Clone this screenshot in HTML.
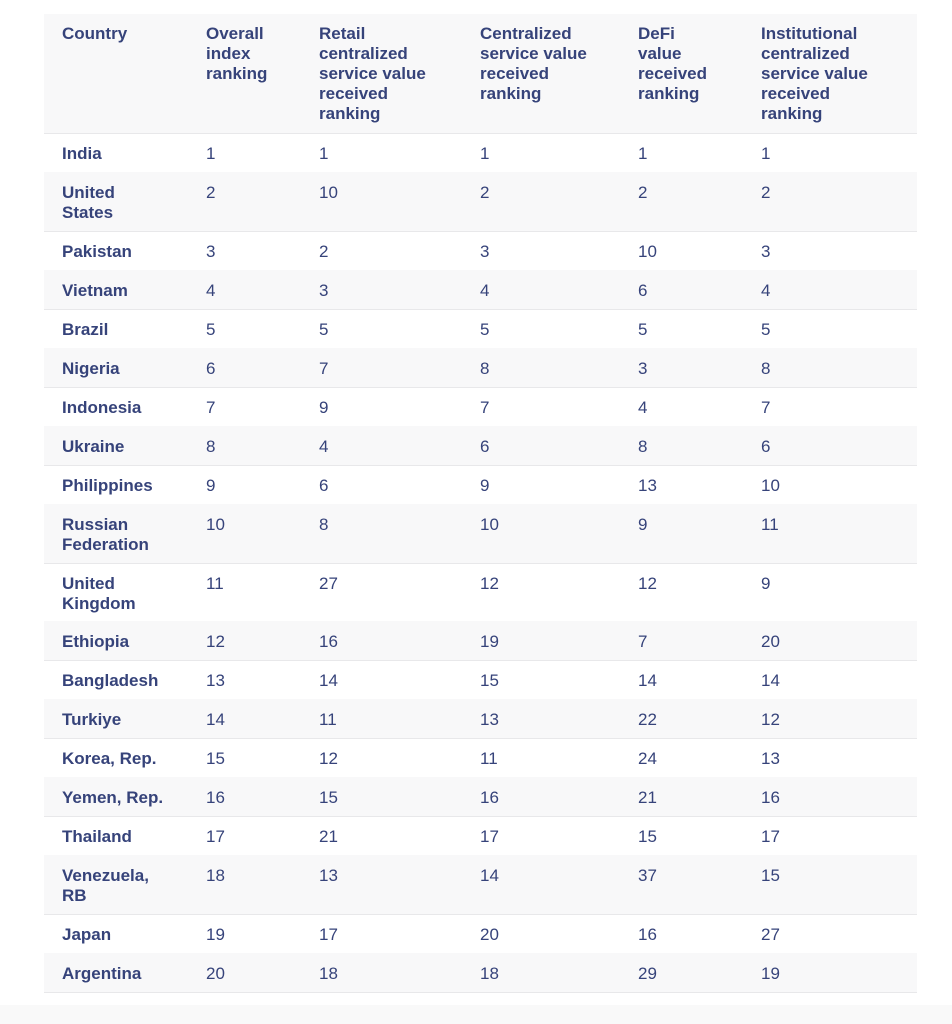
<!DOCTYPE html>
<html><head><meta charset="utf-8"><style>
body{margin:0;width:952px;height:1024px;background:#fff;position:relative;overflow:hidden;font-family:"Liberation Sans",sans-serif;color:#36437a;}
.bot{position:absolute;left:0;top:1005px;width:952px;height:19px;background:#f9f9f9}
.r{position:absolute;left:44px;width:873px;border-bottom:1.5px solid #e8e8ea;box-sizing:border-box}
.g{background:#f8f8f9}
.c{position:absolute;font-size:17px;line-height:20px;white-space:nowrap}
.b{font-weight:bold}
</style></head><body>
<div class="bot"></div>
<div id="t"></div>
<script>
const rows=[
["Country","Overall<br>index<br>ranking","Retail<br>centralized<br>service value<br>received<br>ranking","Centralized<br>service value<br>received<br>ranking","DeFi<br>value<br>received<br>ranking","Institutional<br>centralized<br>service value<br>received<br>ranking",14,133],
["India",1,1,1,1,1,133,172],["United<br>States",2,10,2,2,2,172,231],["Pakistan",3,2,3,10,3,231,270],
["Vietnam",4,3,4,6,4,270,309],["Brazil",5,5,5,5,5,309,348],["Nigeria",6,7,8,3,8,348,387],
["Indonesia",7,9,7,4,7,387,426],["Ukraine",8,4,6,8,6,426,465],["Philippines",9,6,9,13,10,465,504],
["Russian<br>Federation",10,8,10,9,11,504,563],["United<br>Kingdom",11,27,12,12,9,563,621],
["Ethiopia",12,16,19,7,20,621,660],["Bangladesh",13,14,15,14,14,660,699],["Turkiye",14,11,13,22,12,699,738],
["Korea, Rep.",15,12,11,24,13,738,777],["Yemen, Rep.",16,15,16,21,16,777,816],["Thailand",17,21,17,15,17,816,855],
["Venezuela,<br>RB",18,13,14,37,15,855,914],["Japan",19,17,20,16,27,914,953],["Argentina",20,18,18,29,19,953,992]];
const xs=[62,206,319,480,638,761];let h='';
rows.forEach((r,i)=>{const t=r[6],b=r[7];
h+=`<div class="r${i%2==0?' g':''}" style="top:${t}px;height:${b-t+1}px"></div>`;
for(let j=0;j<6;j++){h+=`<div class="c${(i==0||j==0)?' b':''}" style="left:${xs[j]}px;top:${t+(i==0?10:11)}px">${r[j]}</div>`;}});
document.getElementById('t').innerHTML=h;
</script>
</body></html>
